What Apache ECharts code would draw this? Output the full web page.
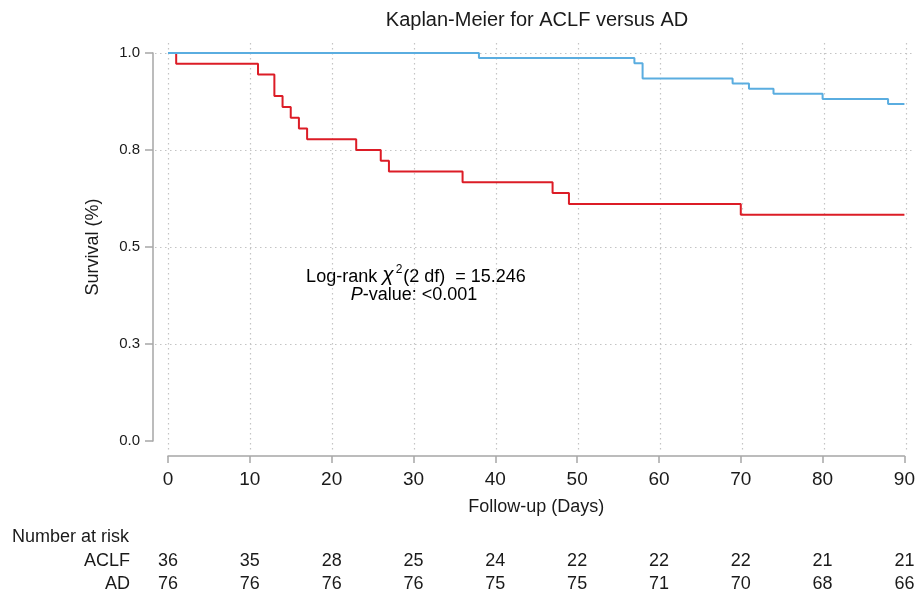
<!DOCTYPE html>
<html>
<head>
<meta charset="utf-8">
<script src="https://cdn.jsdelivr.net/npm/echarts@6/dist/echarts.min.js"></script>
<style>
html,body{margin:0;padding:0;background:#fff;}
#chart{width:918px;height:599px;}
</style>
</head>
<body>
<div id="chart"></div>
<script>
// ---- data ----
const xTicks = [0, 10, 20, 30, 40, 50, 60, 70, 80, 90];
const aclfTime = [0, 1, 11, 13, 14, 15, 16, 17, 23, 26, 27, 36, 47, 49, 70, 90];
const aclfSurv = [1, 0.9722, 0.9444, 0.8889, 0.8611, 0.8333, 0.8056, 0.7778, 0.75, 0.7222, 0.6944, 0.6667, 0.6389, 0.6111, 0.5833, 0.5833];
const adTime = [0, 38, 57, 58, 69, 71, 74, 80, 88, 90];
const adSurv = [1, 0.9868, 0.9737, 0.9342, 0.9211, 0.9079, 0.8947, 0.8816, 0.8684, 0.8684];
const aclfRisk = [36, 35, 28, 25, 24, 22, 22, 22, 21, 21];
const adRisk = [76, 76, 76, 76, 75, 75, 71, 70, 68, 66];
const yTicks = [0, 0.25, 0.5, 0.75, 1];

const FONT = "'Liberation Sans', Arial, Helvetica, sans-serif";
const TXT = '#1a1a1a';
const AX = '#a6a6a6';
const GRIDC = '#c4c4c4';
const RED = '#dc1c26';
const BLUE = '#5aade0';

const zip = (a, b) => a.map((v, i) => [v, b[i]]);
const riskIdx = v => xTicks.indexOf(Math.round(v));

const chart = echarts.init(document.getElementById('chart'), null, {renderer: 'canvas'});

const option = {
  backgroundColor: '#fff',
  animation: false,
  textStyle: {fontFamily: FONT, color: TXT},
  grid: [
    {left: 168, right: 12, top: 53, bottom: 158},
    {left: 155, right: 3, top: 53, bottom: 158},
    {left: 168, right: 12, top: 43, bottom: 149}
  ],
  xAxis: [
    {
      gridIndex: 0, type: 'value', min: 0, max: 90, interval: 10, position: 'bottom', offset: 15,
      axisLine: {show: true, onZero: false, lineStyle: {color: AX, width: 1.5}},
      axisTick: {show: true, length: 7, lineStyle: {color: AX, width: 1.5}},
      axisLabel: {fontSize: 19, color: TXT, margin: 14, fontFamily: FONT},
      splitLine: {show: false},
      name: 'Follow-up (Days)', nameLocation: 'middle', nameGap: 42,
      nameTextStyle: {fontSize: 18, color: TXT, fontFamily: FONT}
    },
    {
      gridIndex: 0, type: 'value', min: 0, max: 90, interval: 10, position: 'bottom', offset: 120,
      axisLine: {show: false, onZero: false}, axisTick: {show: false}, splitLine: {show: false},
      axisLabel: {fontSize: 18, color: TXT, margin: 0, verticalAlign: 'middle', fontFamily: FONT,
        formatter: v => String(aclfRisk[riskIdx(v)])}
    },
    {
      gridIndex: 0, type: 'value', min: 0, max: 90, interval: 10, position: 'bottom', offset: 143,
      axisLine: {show: false, onZero: false}, axisTick: {show: false}, splitLine: {show: false},
      axisLabel: {fontSize: 18, color: TXT, margin: 0, verticalAlign: 'middle', fontFamily: FONT,
        formatter: v => String(adRisk[riskIdx(v)])}
    },
    {gridIndex: 1, type: 'value', min: 0, max: 1, show: false},
    {
      gridIndex: 2, type: 'value', min: 0, max: 90, interval: 10,
      axisLine: {show: false, onZero: false}, axisTick: {show: false}, axisLabel: {show: false},
      splitLine: {show: true, showMinLine: true, showMaxLine: true, lineStyle: {color: GRIDC, width: 1.2, type: [1.5, 3.5]}}
    }
  ],
  yAxis: [
    {
      gridIndex: 0, type: 'value', min: 0, max: 1, interval: 0.25, position: 'left', offset: 15,
      axisLine: {show: true, onZero: false, lineStyle: {color: AX, width: 1.5}},
      axisTick: {show: true, length: 8, lineStyle: {color: AX, width: 1.5}},
      axisLabel: {fontSize: 15, color: TXT, margin: 13, fontFamily: FONT, formatter: v => v.toFixed(1)},
      splitLine: {show: false},
      name: 'Survival (%)', nameLocation: 'middle', nameGap: 51, nameRotate: 90,
      nameTextStyle: {fontSize: 18, color: TXT, fontFamily: FONT}
    },
    {
      gridIndex: 1, type: 'value', min: 0, max: 1, interval: 0.25,
      axisLine: {show: false, onZero: false}, axisTick: {show: false}, axisLabel: {show: false},
      splitLine: {show: true, showMinLine: false, showMaxLine: true, lineStyle: {color: GRIDC, width: 1.2, type: [1.5, 3.5]}}
    },
    {gridIndex: 2, type: 'value', min: 0, max: 1, show: false}
  ],
  series: [
    {
      name: 'ACLF', type: 'line', step: 'end', xAxisIndex: 0, yAxisIndex: 0,
      data: zip(aclfTime, aclfSurv), showSymbol: false, symbol: 'none', clip: false,
      lineStyle: {color: RED, width: 2}, itemStyle: {color: RED}, z: 3
    },
    {
      name: 'AD', type: 'line', step: 'end', xAxisIndex: 0, yAxisIndex: 0,
      data: zip(adTime, adSurv), showSymbol: false, symbol: 'none', clip: false,
      lineStyle: {color: BLUE, width: 2}, itemStyle: {color: BLUE}, z: 4
    }
  ],
  graphic: [
    {type: 'text', x: 537, y: 20, style: {text: 'Kaplan-Meier for ACLF versus AD', fill: TXT,
      font: '20px ' + FONT, align: 'center', verticalAlign: 'middle'}},
    {type: 'text', x: 12, y: 537, style: {text: 'Number at risk', fill: TXT,
      font: '18px ' + FONT, align: 'left', verticalAlign: 'middle'}},
    {type: 'text', x: 130, y: 561, style: {text: 'ACLF', fill: TXT,
      font: '18px ' + FONT, align: 'right', verticalAlign: 'middle'}},
    {type: 'text', x: 130, y: 584, style: {text: 'AD', fill: TXT,
      font: '18px ' + FONT, align: 'right', verticalAlign: 'middle'}},
    {type: 'text', x: 416, y: 275, style: {
      text: '{n|Log-rank }{c|χ}{s|2}{n|(2 df)  = 15.246}', align: 'center', verticalAlign: 'middle',
      rich: {
        n: {fontSize: 18, fontFamily: FONT, color: TXT, verticalAlign: 'bottom', lineHeight: 22},
        c: {fontSize: 21, fontFamily: FONT, fontStyle: 'italic', color: TXT, verticalAlign: 'bottom', lineHeight: 22},
        s: {fontSize: 12, fontFamily: FONT, color: TXT, verticalAlign: 'top', lineHeight: 22, padding: [0, 1, 0, 2]}
      }}},
    {type: 'text', x: 414, y: 295, style: {
      text: '{i|P}{n|-value: <0.001}', align: 'center', verticalAlign: 'middle',
      rich: {
        n: {fontSize: 18, fontFamily: FONT, color: TXT},
        i: {fontSize: 18, fontFamily: FONT, fontStyle: 'italic', color: TXT}
      }}}
  ]
};
chart.setOption(option);
</script>
</body>
</html>
